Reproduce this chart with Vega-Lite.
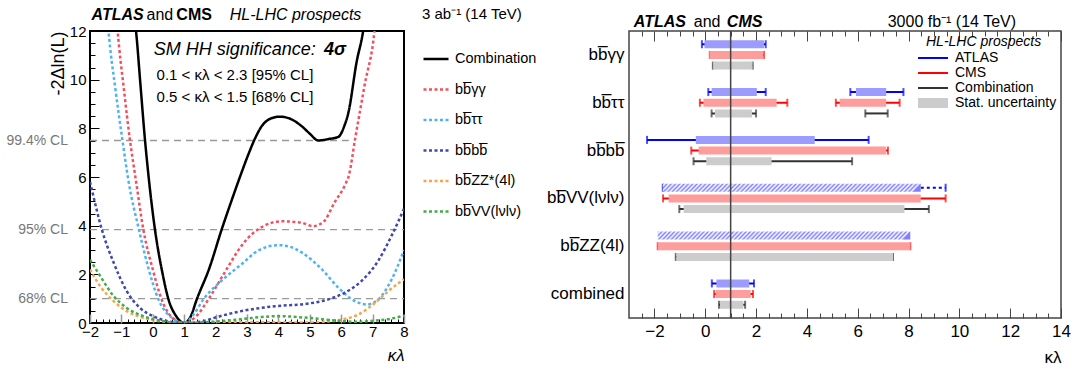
{
  "$schema": "https://vega.github.io/schema/vega-lite/v6.json",
  "background": "white",
  "padding": 5,
  "spacing": 7,
  "resolve": {"scale": {"color": "independent", "shape": "independent", "strokeDash": "independent"}},
  "config": {"font": "Liberation Sans", "axis": {"grid": false}, "text": {"color": "black"}},
  "datasets": {
    "curves": [
      {"s":"Combination","k":-0.62,"v":12.8},{"s":"Combination","k":-0.535,"v":12},{"s":"Combination","k":-0.4,"v":9.9},{"s":"Combination","k":-0.25,"v":7.54},{"s":"Combination","k":-0.14,"v":6.09},{"s":"Combination","k":0.07,"v":3.83},{"s":"Combination","k":0.3,"v":2.1},{"s":"Combination","k":0.5,"v":0.97},{"s":"Combination","k":0.75,"v":0.27},{"s":"Combination","k":1.0,"v":0},{"s":"Combination","k":1.2,"v":0.25},{"s":"Combination","k":1.4,"v":0.97},{"s":"Combination","k":1.8,"v":2.25},{"s":"Combination","k":2.19,"v":3.83},{"s":"Combination","k":2.5,"v":5.0},{"s":"Combination","k":2.8,"v":6.09},{"s":"Combination","k":3.05,"v":6.95},{"s":"Combination","k":3.24,"v":7.54},{"s":"Combination","k":3.47,"v":8.09},{"s":"Combination","k":3.75,"v":8.4},{"s":"Combination","k":4.05,"v":8.48},{"s":"Combination","k":4.4,"v":8.38},{"s":"Combination","k":4.74,"v":8.09},{"s":"Combination","k":5.0,"v":7.78},{"s":"Combination","k":5.27,"v":7.5},{"s":"Combination","k":5.6,"v":7.56},{"s":"Combination","k":5.91,"v":7.65},{"s":"Combination","k":6.1,"v":8.1},{"s":"Combination","k":6.23,"v":8.65},{"s":"Combination","k":6.49,"v":10.72},{"s":"Combination","k":6.71,"v":12.1},{"s":"Combination","k":6.78,"v":12.8},
      {"s":"bb\u0305γγ","k":-1.17,"v":12.8},{"s":"bb\u0305γγ","k":-1.12,"v":12},{"s":"bb\u0305γγ","k":-0.92,"v":9.6},{"s":"bb\u0305γγ","k":-0.73,"v":7.54},{"s":"bb\u0305γγ","k":-0.54,"v":5.88},{"s":"bb\u0305γγ","k":-0.3,"v":3.83},{"s":"bb\u0305γγ","k":0.0,"v":2.2},{"s":"bb\u0305γγ","k":0.28,"v":0.97},{"s":"bb\u0305γγ","k":0.6,"v":0.25},{"s":"bb\u0305γγ","k":1.0,"v":0},{"s":"bb\u0305γγ","k":1.4,"v":0.3},{"s":"bb\u0305γγ","k":1.77,"v":0.97},{"s":"bb\u0305γγ","k":2.3,"v":2.1},{"s":"bb\u0305γγ","k":2.83,"v":3.18},{"s":"bb\u0305γγ","k":3.2,"v":3.7},{"s":"bb\u0305γγ","k":3.47,"v":3.94},{"s":"bb\u0305γγ","k":4.1,"v":4.18},{"s":"bb\u0305γγ","k":4.74,"v":4.12},{"s":"bb\u0305γγ","k":5.11,"v":3.98},{"s":"bb\u0305γγ","k":5.43,"v":4.15},{"s":"bb\u0305γγ","k":5.8,"v":4.98},{"s":"bb\u0305γγ","k":6.12,"v":5.67},{"s":"bb\u0305γγ","k":6.25,"v":6.09},{"s":"bb\u0305γγ","k":6.44,"v":7.54},{"s":"bb\u0305γγ","k":6.75,"v":9.8},{"s":"bb\u0305γγ","k":7.06,"v":12},{"s":"bb\u0305γγ","k":7.12,"v":12.8},
      {"s":"bb\u0305ττ","k":-1.46,"v":12.8},{"s":"bb\u0305ττ","k":-1.41,"v":12},{"s":"bb\u0305ττ","k":-1.2,"v":9.7},{"s":"bb\u0305ττ","k":-0.97,"v":7.54},{"s":"bb\u0305ττ","k":-0.78,"v":5.88},{"s":"bb\u0305ττ","k":-0.44,"v":3.83},{"s":"bb\u0305ττ","k":-0.15,"v":2.3},{"s":"bb\u0305ττ","k":0.18,"v":0.97},{"s":"bb\u0305ττ","k":0.6,"v":0.22},{"s":"bb\u0305ττ","k":1.0,"v":0},{"s":"bb\u0305ττ","k":1.3,"v":0.35},{"s":"bb\u0305ττ","k":1.61,"v":0.97},{"s":"bb\u0305ττ","k":2.2,"v":1.75},{"s":"bb\u0305ττ","k":2.83,"v":2.42},{"s":"bb\u0305ττ","k":3.36,"v":2.98},{"s":"bb\u0305ττ","k":4.0,"v":3.2},{"s":"bb\u0305ττ","k":4.4,"v":3.12},{"s":"bb\u0305ττ","k":4.74,"v":2.9},{"s":"bb\u0305ττ","k":5.38,"v":2.21},{"s":"bb\u0305ττ","k":5.91,"v":1.45},{"s":"bb\u0305ττ","k":6.44,"v":0.9},{"s":"bb\u0305ττ","k":6.81,"v":0.76},{"s":"bb\u0305ττ","k":7.18,"v":0.97},{"s":"bb\u0305ττ","k":7.61,"v":1.8},{"s":"bb\u0305ττ","k":8.0,"v":3.0},
      {"s":"bb\u0305bb\u0305","k":-2.0,"v":5.8},{"s":"bb\u0305bb\u0305","k":-1.95,"v":5.53},{"s":"bb\u0305bb\u0305","k":-1.63,"v":3.87},{"s":"bb\u0305bb\u0305","k":-1.25,"v":2.49},{"s":"bb\u0305bb\u0305","k":-0.83,"v":1.31},{"s":"bb\u0305bb\u0305","k":-0.41,"v":0.62},{"s":"bb\u0305bb\u0305","k":0.02,"v":0.28},{"s":"bb\u0305bb\u0305","k":0.45,"v":0.08},{"s":"bb\u0305bb\u0305","k":1.0,"v":0},{"s":"bb\u0305bb\u0305","k":1.5,"v":0.05},{"s":"bb\u0305bb\u0305","k":2.14,"v":0.28},{"s":"bb\u0305bb\u0305","k":2.83,"v":0.49},{"s":"bb\u0305bb\u0305","k":3.89,"v":0.69},{"s":"bb\u0305bb\u0305","k":4.96,"v":0.8},{"s":"bb\u0305bb\u0305","k":5.59,"v":0.97},{"s":"bb\u0305bb\u0305","k":6.12,"v":1.25},{"s":"bb\u0305bb\u0305","k":6.65,"v":1.73},{"s":"bb\u0305bb\u0305","k":7.18,"v":2.56},{"s":"bb\u0305bb\u0305","k":7.61,"v":3.6},{"s":"bb\u0305bb\u0305","k":8.0,"v":4.7},
      {"s":"bb\u0305ZZ*(4l)","k":-2.0,"v":2.2},{"s":"bb\u0305ZZ*(4l)","k":-1.68,"v":1.52},{"s":"bb\u0305ZZ*(4l)","k":-1.25,"v":0.9},{"s":"bb\u0305ZZ*(4l)","k":-0.83,"v":0.49},{"s":"bb\u0305ZZ*(4l)","k":-0.3,"v":0.21},{"s":"bb\u0305ZZ*(4l)","k":0.3,"v":0.06},{"s":"bb\u0305ZZ*(4l)","k":1.0,"v":0},{"s":"bb\u0305ZZ*(4l)","k":2.0,"v":0.02},{"s":"bb\u0305ZZ*(4l)","k":3.0,"v":0.03},{"s":"bb\u0305ZZ*(4l)","k":4.0,"v":0.03},{"s":"bb\u0305ZZ*(4l)","k":5.0,"v":0.02},{"s":"bb\u0305ZZ*(4l)","k":5.5,"v":0.05},{"s":"bb\u0305ZZ*(4l)","k":6.02,"v":0.14},{"s":"bb\u0305ZZ*(4l)","k":6.55,"v":0.35},{"s":"bb\u0305ZZ*(4l)","k":7.08,"v":0.83},{"s":"bb\u0305ZZ*(4l)","k":7.5,"v":1.31},{"s":"bb\u0305ZZ*(4l)","k":8.0,"v":1.8},
      {"s":"bb\u0305VV(lνlν)","k":-2.0,"v":2.6},{"s":"bb\u0305VV(lνlν)","k":-1.68,"v":1.94},{"s":"bb\u0305VV(lνlν)","k":-1.25,"v":1.11},{"s":"bb\u0305VV(lνlν)","k":-0.83,"v":0.62},{"s":"bb\u0305VV(lνlν)","k":-0.3,"v":0.28},{"s":"bb\u0305VV(lνlν)","k":0.3,"v":0.08},{"s":"bb\u0305VV(lνlν)","k":1.0,"v":0},{"s":"bb\u0305VV(lνlν)","k":2.0,"v":0.06},{"s":"bb\u0305VV(lνlν)","k":2.83,"v":0.16},{"s":"bb\u0305VV(lνlν)","k":3.5,"v":0.25},{"s":"bb\u0305VV(lνlν)","k":4.0,"v":0.28},{"s":"bb\u0305VV(lνlν)","k":4.96,"v":0.21},{"s":"bb\u0305VV(lνlν)","k":6.0,"v":0.08},{"s":"bb\u0305VV(lνlν)","k":6.5,"v":0.05},{"s":"bb\u0305VV(lνlν)","k":7.1,"v":0.1},{"s":"bb\u0305VV(lνlν)","k":7.6,"v":0.18},{"s":"bb\u0305VV(lνlν)","k":8.0,"v":0.3}
    ],
    "cl": [
      {"label":"99.4% CL","v":7.5,"lo":-2,"hi":6.24},
      {"label":"95% CL","v":3.84,"lo":-2,"hi":8},
      {"label":"68% CL","v":1.0,"lo":-2,"hi":8}
    ],
    "iv": [
      {"ch":"bb\u0305γγ","exp":"ATLAS","lo":-0.03,"hi":2.31,"elo":-0.13,"ehi":2.38},
      {"ch":"bb\u0305γγ","exp":"CMS","lo":0.17,"hi":2.29,"elo":0.18,"ehi":2.31},
      {"ch":"bb\u0305γγ","exp":"Combination","lo":0.31,"hi":1.86,"elo":0.3,"ehi":1.87},
      {"ch":"bb\u0305ττ","exp":"ATLAS","lo":0.25,"hi":2.03,"elo":0.12,"ehi":2.38},
      {"ch":"bb\u0305ττ","exp":"ATLAS","lo":5.93,"hi":7.12,"elo":5.71,"ehi":7.8},
      {"ch":"bb\u0305ττ","exp":"CMS","lo":-0.07,"hi":2.81,"elo":-0.21,"ehi":3.23},
      {"ch":"bb\u0305ττ","exp":"CMS","lo":5.29,"hi":7.12,"elo":5.14,"ehi":7.65},
      {"ch":"bb\u0305ττ","exp":"Combination","lo":0.38,"hi":1.84,"elo":0.25,"ehi":2.0},
      {"ch":"bb\u0305ττ","exp":"Combination","elo":6.3,"ehi":7.18},
      {"ch":"bb\u0305bb\u0305","exp":"ATLAS","lo":-0.37,"hi":4.31,"elo":-2.29,"ehi":6.43},
      {"ch":"bb\u0305bb\u0305","exp":"CMS","lo":-0.26,"hi":7.12,"elo":-0.55,"ehi":7.19},
      {"ch":"bb\u0305bb\u0305","exp":"Combination","lo":0.04,"hi":2.61,"elo":-0.46,"ehi":5.78},
      {"ch":"bb\u0305VV(lνlν)","exp":"ATLAS","kind":"estimate","lo":-1.67,"hi":8.48,"elo":-1.67,"ehi":9.46},
      {"ch":"bb\u0305VV(lνlν)","exp":"CMS","lo":-1.44,"hi":8.48,"elo":-1.66,"ehi":9.46},
      {"ch":"bb\u0305VV(lνlν)","exp":"Combination","lo":-0.85,"hi":7.84,"elo":-1.02,"ehi":8.8},
      {"ch":"bb\u0305ZZ(4l)","exp":"ATLAS","kind":"estimate","lo":-1.87,"hi":8.07},
      {"ch":"bb\u0305ZZ(4l)","exp":"CMS","lo":-1.87,"hi":8.07,"elo":-1.87,"ehi":8.07},
      {"ch":"bb\u0305ZZ(4l)","exp":"Combination","lo":-1.14,"hi":7.39,"elo":-1.16,"ehi":7.39},
      {"ch":"combined","exp":"ATLAS","lo":0.44,"hi":1.73,"elo":0.26,"ehi":1.92},
      {"ch":"combined","exp":"CMS","lo":0.41,"hi":1.79,"elo":0.35,"ehi":1.88},
      {"ch":"combined","exp":"Combination","lo":0.58,"hi":1.5,"elo":0.54,"ehi":1.57}
    ],
    "leg": [{"leg":"ATLAS"},{"leg":"CMS"},{"leg":"Combination"},{"leg":"Stat. uncertainty"}]
  },
  "hconcat": [
    {
      "width": 314,
      "height": 292,
      "view": {"stroke": "black", "strokeWidth": 2},
      "resolve": {"axis": {"x": "independent", "y": "independent"}},
      "layer": [
        {
          "data": {"name": "cl"},
          "mark": {"type": "rule", "color": "#9a9a9a", "strokeDash": [7, 5], "strokeWidth": 1.3},
          "encoding": {
            "x": {"field": "lo", "type": "quantitative", "scale": {"domain": [-2, 8], "nice": false, "zero": false},
              "axis": {"orient": "bottom", "values": [-2,-1,0,1,2,3,4,5,6,7,8], "format": "d",
                "title": "κλ", "titleFontStyle": "italic", "titleFontWeight": "normal", "titleFontSize": 17, "titleAnchor": "end", "titleColor": "black", "titlePadding": 8, "labelFontSize": 15, "labelColor": "black", "labelFlush": false, "tickColor": "#999", "tickSize": -9, "tickWidth": 1.5, "labelPadding": 10, "domain": false}},
            "x2": {"field": "hi"},
            "y": {"field": "v", "type": "quantitative", "scale": {"domain": [0, 12], "nice": false, "zero": true},
              "axis": {"orient": "left", "values": [0,2,4,6,8,10,12], "format": "d",
                "title": "-2Δln(L)", "titleFontWeight": "normal", "titleFontSize": 18, "titleAnchor": "end", "titleColor": "black", "titlePadding": 2, "labelFontSize": 15, "labelColor": "black", "labelFlush": false, "tickColor": "black", "tickSize": -9, "tickWidth": 1, "labelPadding": 13, "domain": false}}
          }
        },
        {
          "data": {"name": "cl"},
          "mark": {"type": "text", "align": "right", "baseline": "middle", "dx": -22, "fontSize": 14, "color": "#777"},
          "encoding": {
            "x": {"field": "lo", "type": "quantitative", "axis": null},
            "y": {"field": "v", "type": "quantitative", "axis": null},
            "text": {"field": "label"}
          }
        },
        {
          "data": {"name": "curves"},
          "mark": {"type": "line", "clip": true, "strokeWidth": 2.5, "interpolate": "monotone"},
          "encoding": {
            "x": {"field": "k", "type": "quantitative",
              "axis": {"orient": "bottom", "values": [-1.8,-1.6,-1.4,-1.2,-0.8,-0.6,-0.4,-0.2,0.2,0.4,0.6,0.8,1.2,1.4,1.6,1.8,2.2,2.4,2.6,2.8,3.2,3.4,3.6,3.8,4.2,4.4,4.6,4.8,5.2,5.4,5.6,5.8,6.2,6.4,6.6,6.8,7.2,7.4,7.6,7.8],
                "labels": false, "title": null, "domain": false, "tickColor": "black", "tickSize": -4, "tickWidth": 1}},
            "y": {"field": "v", "type": "quantitative",
              "axis": {"orient": "left", "values": [0.5,1,1.5,2.5,3,3.5,4.5,5,5.5,6.5,7,7.5,8.5,9,9.5,10.5,11,11.5],
                "labels": false, "title": null, "domain": false, "tickColor": "black", "tickSize": -5, "tickWidth": 1}},
            "color": {"field": "s", "type": "nominal",
              "scale": {"domain": ["Combination","bb\u0305γγ","bb\u0305ττ","bb\u0305bb\u0305","bb\u0305ZZ*(4l)","bb\u0305VV(lνlν)"], "range": ["#000000","#f2505e","#4db3f5","#4048aa","#f7a54a","#44aa4a"]},
              "legend": {"title": "3 ab⁻¹ (14 TeV)", "orient": "none", "legendX": 332, "legendY": -24, "titleFontSize": 15, "titleFontWeight": "normal", "titleColor": "black", "titlePadding": 23, "labelFontSize": 14.5, "labelColor": "black", "symbolType": "stroke", "symbolSize": 625, "symbolStrokeWidth": 2.5, "rowPadding": 9.5, "labelOffset": 5}},
            "strokeDash": {"field": "s", "type": "nominal",
              "scale": {"domain": ["Combination","bb\u0305γγ","bb\u0305ττ","bb\u0305bb\u0305","bb\u0305ZZ*(4l)","bb\u0305VV(lνlν)"], "range": [[1,0],[3,2.5],[3,2.5],[3,2.5],[3,2.5],[3,2.5]]},
              "legend": {"title": "3 ab⁻¹ (14 TeV)", "orient": "none", "legendX": 332, "legendY": -24, "titleFontSize": 15, "titleFontWeight": "normal", "titleColor": "black", "titlePadding": 23, "labelFontSize": 14.5, "labelColor": "black", "symbolType": "stroke", "symbolSize": 625, "symbolStrokeWidth": 2.5, "rowPadding": 9.5, "labelOffset": 5}}
          }
        },
        {
          "data": {"values": [{}]},
          "mark": {"type": "text", "align": "left", "baseline": "middle", "fontSize": 18, "fontStyle": "italic"},
          "encoding": {"x": {"datum": 0.03, "type": "quantitative", "axis": null}, "y": {"datum": 11.2, "type": "quantitative", "axis": null}, "text": {"value": "SM HH significance:"}}
        },
        {
          "data": {"values": [{}]},
          "mark": {"type": "text", "align": "left", "baseline": "middle", "fontSize": 18, "fontStyle": "italic", "fontWeight": "bold"},
          "encoding": {"x": {"datum": 5.45, "type": "quantitative", "axis": null}, "y": {"datum": 11.2, "type": "quantitative", "axis": null}, "text": {"value": "4σ"}}
        },
        {
          "data": {"values": [{}]},
          "mark": {"type": "text", "align": "left", "baseline": "middle", "fontSize": 15},
          "encoding": {"x": {"datum": 0.12, "type": "quantitative", "axis": null}, "y": {"datum": 10.2, "type": "quantitative", "axis": null}, "text": {"value": "0.1 < κλ < 2.3 [95% CL]"}}
        },
        {
          "data": {"values": [{}]},
          "mark": {"type": "text", "align": "left", "baseline": "middle", "fontSize": 15},
          "encoding": {"x": {"datum": 0.12, "type": "quantitative", "axis": null}, "y": {"datum": 9.3, "type": "quantitative", "axis": null}, "text": {"value": "0.5 < κλ < 1.5 [68% CL]"}}
        },
        {
          "data": {"values": [{}]},
          "mark": {"type": "text", "align": "left", "baseline": "middle", "fontSize": 16, "fontStyle": "italic", "fontWeight": "bold"},
          "encoding": {"x": {"datum": -1.95, "type": "quantitative", "axis": null}, "y": {"datum": 12.67, "type": "quantitative", "axis": null}, "text": {"value": "ATLAS"}}
        },
        {
          "data": {"values": [{}]},
          "mark": {"type": "text", "align": "left", "baseline": "middle", "fontSize": 16},
          "encoding": {"x": {"datum": -0.2, "type": "quantitative", "axis": null}, "y": {"datum": 12.67, "type": "quantitative", "axis": null}, "text": {"value": "and"}}
        },
        {
          "data": {"values": [{}]},
          "mark": {"type": "text", "align": "left", "baseline": "middle", "fontSize": 16, "fontWeight": "bold"},
          "encoding": {"x": {"datum": 0.75, "type": "quantitative", "axis": null}, "y": {"datum": 12.67, "type": "quantitative", "axis": null}, "text": {"value": "CMS"}}
        },
        {
          "data": {"values": [{}]},
          "mark": {"type": "text", "align": "left", "baseline": "middle", "fontSize": 16, "fontStyle": "italic"},
          "encoding": {"x": {"datum": 2.45, "type": "quantitative", "axis": null}, "y": {"datum": 12.67, "type": "quantitative", "axis": null}, "text": {"value": "HL-LHC prospects"}}
        }
      ]
    },
    {
      "width": 432,
      "height": 287,
      "view": {"stroke": "#444", "strokeWidth": 1.5},
      "resolve": {"scale": {"color": "independent", "shape": "independent"}, "axis": {"x": "independent"}},
      "layer": [
        {
          "data": {"name": "iv"},
          "transform": [{"filter": "datum.kind !== 'estimate' && datum.elo != null"}],
          "mark": {"type": "rule", "strokeWidth": 2},
          "encoding": {
            "x": {"field": "elo", "type": "quantitative", "scale": {"domain": [-3, 14], "nice": false, "zero": false},
              "axis": {"orient": "bottom", "values": [-2,0,2,4,6,8,10,12,14], "format": "d",
                "title": "κλ", "titleFontWeight": "normal", "titleFontSize": 17, "titleAnchor": "end", "titleColor": "black", "titlePadding": 10, "labelFontSize": 17, "labelColor": "black", "labelFlush": false, "tickColor": "#444", "tickSize": -10, "tickWidth": 1, "labelPadding": 15, "domain": false}},
            "x2": {"field": "ehi"},
            "y": {"field": "ch", "type": "nominal", "sort": ["bb\u0305γγ","bb\u0305ττ","bb\u0305bb\u0305","bb\u0305VV(lνlν)","bb\u0305ZZ(4l)","combined"],
              "scale": {"paddingInner": 0.33, "paddingOuter": 0.165},
              "axis": {"title": null, "labelFontSize": 17, "labelColor": "black", "ticks": false, "domain": false, "labelPadding": 5}},
            "yOffset": {"field": "exp", "type": "nominal", "sort": ["ATLAS","CMS","Combination"]},
            "color": {"field": "exp", "type": "nominal", "scale": {"domain": ["ATLAS","CMS","Combination"], "range": ["#0000ff","#ff0000","#333333"]}, "legend": null}
          }
        },
        {
          "data": {"name": "iv"},
          "transform": [{"filter": "datum.kind === 'estimate' && datum.elo != null"}],
          "mark": {"type": "rule", "strokeWidth": 2, "color": "#0000ff", "strokeDash": [3, 3]},
          "encoding": {
            "x": {"field": "elo", "type": "quantitative",
              "axis": {"orient": "top", "values": [-2,0,2,4,6,8,10,12,14], "labels": false, "title": null, "domain": false, "tickColor": "#444", "tickSize": -10, "tickWidth": 1}},
            "x2": {"field": "ehi"},
            "y": {"field": "ch", "type": "nominal", "sort": ["bb\u0305γγ","bb\u0305ττ","bb\u0305bb\u0305","bb\u0305VV(lνlν)","bb\u0305ZZ(4l)","combined"]},
            "yOffset": {"field": "exp", "type": "nominal", "sort": ["ATLAS","CMS","Combination"]}
          }
        },
        {
          "data": {"name": "iv"},
          "transform": [{"fold": ["elo", "ehi"], "as": ["end", "val"]}, {"filter": "datum.val != null"}],
          "mark": {"type": "tick", "orient": "vertical", "size": 8, "thickness": 2},
          "encoding": {
            "x": {"field": "val", "type": "quantitative",
              "axis": {"orient": "bottom", "values": [-2.5,-1.5,-1,-0.5,0.5,1,1.5,2.5,3,3.5,4.5,5,5.5,6.5,7,7.5,8.5,9,9.5,10.5,11,11.5,12.5,13,13.5], "labels": false, "title": null, "domain": false, "tickColor": "#444", "tickSize": -5, "tickWidth": 1}},
            "y": {"field": "ch", "type": "nominal", "sort": ["bb\u0305γγ","bb\u0305ττ","bb\u0305bb\u0305","bb\u0305VV(lνlν)","bb\u0305ZZ(4l)","combined"]},
            "yOffset": {"field": "exp", "type": "nominal", "sort": ["ATLAS","CMS","Combination"]},
            "color": {"field": "exp", "type": "nominal", "scale": {"domain": ["ATLAS","CMS","Combination"], "range": ["#0000ff","#ff0000","#333333"]}, "legend": null}
          }
        },
        {
          "data": {"name": "iv"},
          "transform": [{"filter": "datum.kind !== 'estimate' && datum.lo != null"}],
          "mark": {"type": "bar", "size": 8},
          "encoding": {
            "x": {"field": "lo", "type": "quantitative", "axis": null},
            "x2": {"field": "hi"},
            "y": {"field": "ch", "type": "nominal", "sort": ["bb\u0305γγ","bb\u0305ττ","bb\u0305bb\u0305","bb\u0305VV(lνlν)","bb\u0305ZZ(4l)","combined"]},
            "yOffset": {"field": "exp", "type": "nominal", "sort": ["ATLAS","CMS","Combination"]},
            "color": {"field": "exp", "type": "nominal", "scale": {"domain": ["ATLAS","CMS","Combination"], "range": ["#9c9cff","#ff9c9c","#cccccc"]}, "legend": null}
          }
        },
        {
          "data": {"name": "iv"},
          "transform": [{"filter": "datum.kind === 'estimate'"}],
          "mark": {"type": "bar", "size": 8, "fill": {"gradient": "linear", "x1": 0, "y1": 0, "x2": 1, "y2": 0.03, "stops": [
            {"offset":0,"color":"#8080ff"},{"offset":0.0083,"color":"#ffffff"},{"offset":0.0167,"color":"#8080ff"},{"offset":0.025,"color":"#ffffff"},{"offset":0.0333,"color":"#8080ff"},{"offset":0.0417,"color":"#ffffff"},{"offset":0.05,"color":"#8080ff"},{"offset":0.0583,"color":"#ffffff"},{"offset":0.0667,"color":"#8080ff"},{"offset":0.075,"color":"#ffffff"},{"offset":0.0833,"color":"#8080ff"},{"offset":0.0917,"color":"#ffffff"},{"offset":0.1,"color":"#8080ff"},{"offset":0.1083,"color":"#ffffff"},{"offset":0.1167,"color":"#8080ff"},{"offset":0.125,"color":"#ffffff"},{"offset":0.1333,"color":"#8080ff"},{"offset":0.1417,"color":"#ffffff"},{"offset":0.15,"color":"#8080ff"},{"offset":0.1583,"color":"#ffffff"},{"offset":0.1667,"color":"#8080ff"},{"offset":0.175,"color":"#ffffff"},{"offset":0.1833,"color":"#8080ff"},{"offset":0.1917,"color":"#ffffff"},{"offset":0.2,"color":"#8080ff"},{"offset":0.2083,"color":"#ffffff"},{"offset":0.2167,"color":"#8080ff"},{"offset":0.225,"color":"#ffffff"},{"offset":0.2333,"color":"#8080ff"},{"offset":0.2417,"color":"#ffffff"},{"offset":0.25,"color":"#8080ff"},{"offset":0.2583,"color":"#ffffff"},{"offset":0.2667,"color":"#8080ff"},{"offset":0.275,"color":"#ffffff"},{"offset":0.2833,"color":"#8080ff"},{"offset":0.2917,"color":"#ffffff"},{"offset":0.3,"color":"#8080ff"},{"offset":0.3083,"color":"#ffffff"},{"offset":0.3167,"color":"#8080ff"},{"offset":0.325,"color":"#ffffff"},{"offset":0.3333,"color":"#8080ff"},{"offset":0.3417,"color":"#ffffff"},{"offset":0.35,"color":"#8080ff"},{"offset":0.3583,"color":"#ffffff"},{"offset":0.3667,"color":"#8080ff"},{"offset":0.375,"color":"#ffffff"},{"offset":0.3833,"color":"#8080ff"},{"offset":0.3917,"color":"#ffffff"},{"offset":0.4,"color":"#8080ff"},{"offset":0.4083,"color":"#ffffff"},{"offset":0.4167,"color":"#8080ff"},{"offset":0.425,"color":"#ffffff"},{"offset":0.4333,"color":"#8080ff"},{"offset":0.4417,"color":"#ffffff"},{"offset":0.45,"color":"#8080ff"},{"offset":0.4583,"color":"#ffffff"},{"offset":0.4667,"color":"#8080ff"},{"offset":0.475,"color":"#ffffff"},{"offset":0.4833,"color":"#8080ff"},{"offset":0.4917,"color":"#ffffff"},{"offset":0.5,"color":"#8080ff"},{"offset":0.5083,"color":"#ffffff"},{"offset":0.5167,"color":"#8080ff"},{"offset":0.525,"color":"#ffffff"},{"offset":0.5333,"color":"#8080ff"},{"offset":0.5417,"color":"#ffffff"},{"offset":0.55,"color":"#8080ff"},{"offset":0.5583,"color":"#ffffff"},{"offset":0.5667,"color":"#8080ff"},{"offset":0.575,"color":"#ffffff"},{"offset":0.5833,"color":"#8080ff"},{"offset":0.5917,"color":"#ffffff"},{"offset":0.6,"color":"#8080ff"},{"offset":0.6083,"color":"#ffffff"},{"offset":0.6167,"color":"#8080ff"},{"offset":0.625,"color":"#ffffff"},{"offset":0.6333,"color":"#8080ff"},{"offset":0.6417,"color":"#ffffff"},{"offset":0.65,"color":"#8080ff"},{"offset":0.6583,"color":"#ffffff"},{"offset":0.6667,"color":"#8080ff"},{"offset":0.675,"color":"#ffffff"},{"offset":0.6833,"color":"#8080ff"},{"offset":0.6917,"color":"#ffffff"},{"offset":0.7,"color":"#8080ff"},{"offset":0.7083,"color":"#ffffff"},{"offset":0.7167,"color":"#8080ff"},{"offset":0.725,"color":"#ffffff"},{"offset":0.7333,"color":"#8080ff"},{"offset":0.7417,"color":"#ffffff"},{"offset":0.75,"color":"#8080ff"},{"offset":0.7583,"color":"#ffffff"},{"offset":0.7667,"color":"#8080ff"},{"offset":0.775,"color":"#ffffff"},{"offset":0.7833,"color":"#8080ff"},{"offset":0.7917,"color":"#ffffff"},{"offset":0.8,"color":"#8080ff"},{"offset":0.8083,"color":"#ffffff"},{"offset":0.8167,"color":"#8080ff"},{"offset":0.825,"color":"#ffffff"},{"offset":0.8333,"color":"#8080ff"},{"offset":0.8417,"color":"#ffffff"},{"offset":0.85,"color":"#8080ff"},{"offset":0.8583,"color":"#ffffff"},{"offset":0.8667,"color":"#8080ff"},{"offset":0.875,"color":"#ffffff"},{"offset":0.8833,"color":"#8080ff"},{"offset":0.8917,"color":"#ffffff"},{"offset":0.9,"color":"#8080ff"},{"offset":0.9083,"color":"#ffffff"},{"offset":0.9167,"color":"#8080ff"},{"offset":0.925,"color":"#ffffff"},{"offset":0.9333,"color":"#8080ff"},{"offset":0.9417,"color":"#ffffff"},{"offset":0.95,"color":"#8080ff"},{"offset":0.9583,"color":"#ffffff"},{"offset":0.9667,"color":"#8080ff"},{"offset":0.975,"color":"#ffffff"},{"offset":0.9833,"color":"#8080ff"},{"offset":0.9917,"color":"#ffffff"},{"offset":1,"color":"#8080ff"}
          ]}},
          "encoding": {
            "x": {"field": "lo", "type": "quantitative", "axis": null},
            "x2": {"field": "hi"},
            "y": {"field": "ch", "type": "nominal", "sort": ["bb\u0305γγ","bb\u0305ττ","bb\u0305bb\u0305","bb\u0305VV(lνlν)","bb\u0305ZZ(4l)","combined"]},
            "yOffset": {"field": "exp", "type": "nominal", "sort": ["ATLAS","CMS","Combination"]}
          }
        },
        {
          "data": {"values": [{}]},
          "mark": {"type": "rule", "color": "#444", "strokeWidth": 1.5},
          "encoding": {"x": {"datum": 1, "type": "quantitative",
            "axis": {"orient": "top", "values": [-2.5,-1.5,-1,-0.5,0.5,1,1.5,2.5,3,3.5,4.5,5,5.5,6.5,7,7.5,8.5,9,9.5,10.5,11,11.5,12.5,13,13.5], "labels": false, "title": null, "domain": false, "tickColor": "#444", "tickSize": -5, "tickWidth": 1}}}
        },
        {
          "data": {"name": "leg"},
          "mark": {"type": "point", "filled": true, "opacity": 0},
          "encoding": {
            "color": {"field": "leg", "type": "nominal",
              "scale": {"domain": ["ATLAS","CMS","Combination","Stat. uncertainty"], "range": ["#0000ff","#ff0000","#333333","#cccccc"]},
              "legend": {"title": "HL-LHC prospects", "orient": "top-right", "offset": 4, "titleFontStyle": "italic", "titleFontWeight": "normal", "titleFontSize": 14, "titleColor": "black", "titlePadding": 2, "labelFontSize": 14, "labelColor": "black", "symbolSize": 100, "symbolOpacity": 1, "symbolStrokeWidth": 0, "labelOffset": 15, "rowPadding": 1}},
            "shape": {"field": "leg", "type": "nominal",
              "scale": {"domain": ["ATLAS","CMS","Combination","Stat. uncertainty"], "range": ["M-3,-0.2L3,-0.2L3,0.2L-3,0.2Z","M-3,-0.2L3,-0.2L3,0.2L-3,0.2Z","M-3,-0.2L3,-0.2L3,0.2L-3,0.2Z","M-3,-1L3,-1L3,1L-3,1Z"]},
              "legend": {"title": "HL-LHC prospects", "orient": "top-right", "offset": 4, "titleFontStyle": "italic", "titleFontWeight": "normal", "titleFontSize": 14, "titleColor": "black", "titlePadding": 2, "labelFontSize": 14, "labelColor": "black", "symbolSize": 100, "symbolOpacity": 1, "symbolStrokeWidth": 0, "labelOffset": 15, "rowPadding": 1}}
          }
        },
        {
          "data": {"values": [{}]},
          "mark": {"type": "text", "align": "left", "baseline": "middle", "fontSize": 16, "fontStyle": "italic", "fontWeight": "bold", "dy": -33},
          "encoding": {"x": {"datum": -2.81, "type": "quantitative", "axis": null}, "y": {"datum": "bb\u0305γγ", "type": "nominal"}, "text": {"value": "ATLAS"}}
        },
        {
          "data": {"values": [{}]},
          "mark": {"type": "text", "align": "left", "baseline": "middle", "fontSize": 16, "dy": -33},
          "encoding": {"x": {"datum": -0.45, "type": "quantitative", "axis": null}, "y": {"datum": "bb\u0305γγ", "type": "nominal"}, "text": {"value": "and"}}
        },
        {
          "data": {"values": [{}]},
          "mark": {"type": "text", "align": "left", "baseline": "middle", "fontSize": 16, "fontStyle": "italic", "fontWeight": "bold", "dy": -33},
          "encoding": {"x": {"datum": 0.85, "type": "quantitative", "axis": null}, "y": {"datum": "bb\u0305γγ", "type": "nominal"}, "text": {"value": "CMS"}}
        },
        {
          "data": {"values": [{}]},
          "mark": {"type": "text", "align": "left", "baseline": "middle", "fontSize": 16, "dy": -33},
          "encoding": {"x": {"datum": 7.18, "type": "quantitative", "axis": null}, "y": {"datum": "bb\u0305γγ", "type": "nominal"}, "text": {"value": "3000 fb⁻¹ (14 TeV)"}}
        }
      ]
    }
  ]
}
